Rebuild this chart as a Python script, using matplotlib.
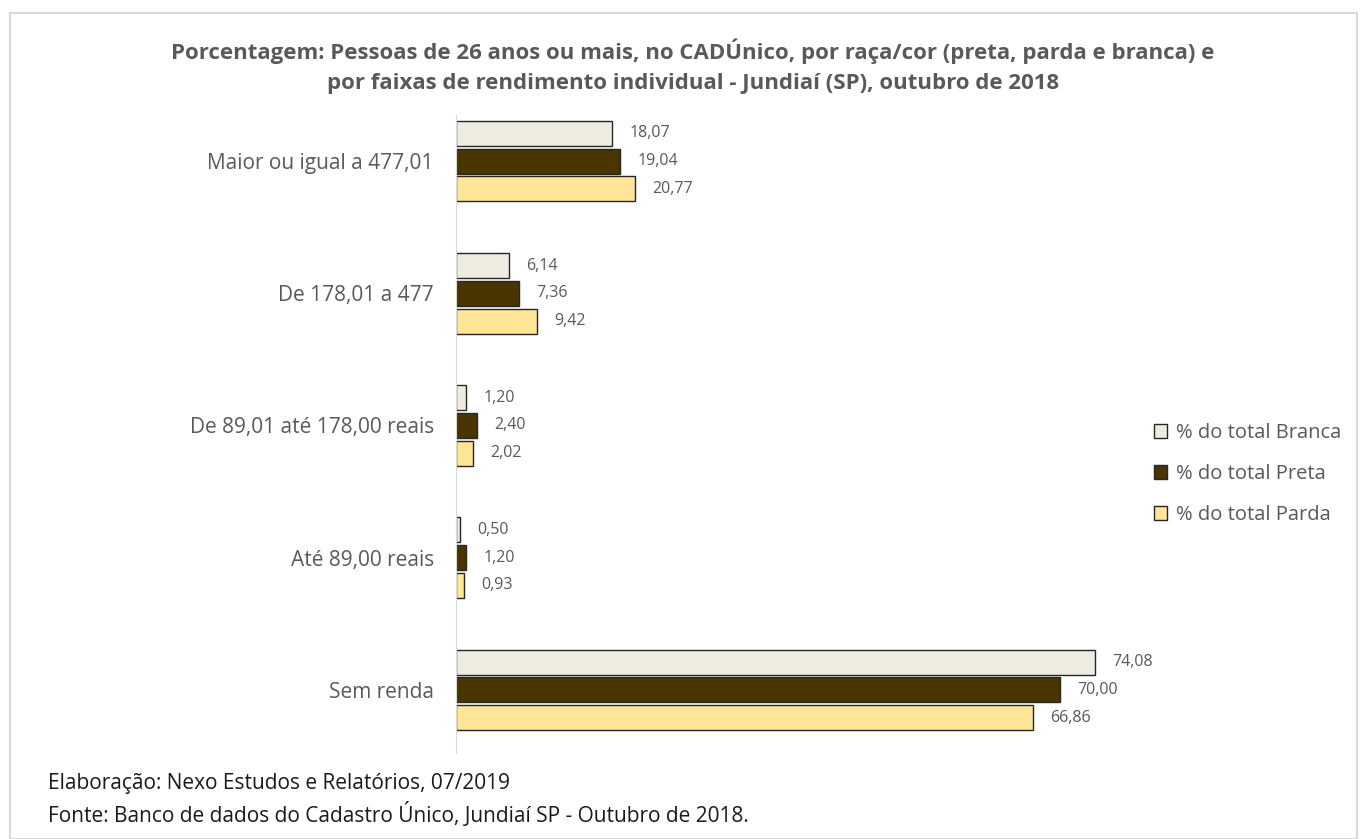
import numpy as np
import matplotlib.pyplot as plt
from matplotlib.patches import Rectangle, Patch

categories = ["Sem renda", "Até 89,00 reais", "De 89,01 até 178,00 reais",
              "De 178,01 a 477", "Maior ou igual a 477,01"]
branca = [74.08, 0.50, 1.20, 6.14, 18.07]
preta = [70.00, 1.20, 2.40, 7.36, 19.04]
parda = [66.86, 0.93, 2.02, 9.42, 20.77]
series_names = ["% do total Branca", "% do total Preta", "% do total Parda"]

colors = ["#EEEBE0", "#4A3500", "#FFE597"]
grey = "#595959"
plt.rcParams["font.family"] = ["Open Sans", "DejaVu Sans"]

fig = plt.figure(figsize=(13.62, 8.39), dpi=100)
W, H = 1362, 839
ax = fig.add_axes([456 / W, 1 - 756 / H, (1146 - 456) / W, (756 - 95) / H])

y = np.arange(len(categories))
h = 0.19
step = 0.21
for vals, off, c in zip([branca, preta, parda], [step, 0, -step], colors):
    bars = ax.barh(y + off, vals, height=h, color=c, edgecolor="#262626", linewidth=1.0)
    for b, v in zip(bars, vals):
        ax.text(v + 2.0, b.get_y() + b.get_height() / 2, f"{v:.2f}".replace(".", ","),
                va="center", ha="left", fontsize=11.5, color=grey)

ax.set_xlim(0, 80)
ax.set_ylim(-0.5, 4.5)
ax.set_yticks(y)
ax.set_yticklabels(categories, fontsize=15, color=grey)
ax.tick_params(axis="y", length=0, pad=16)
ax.set_xticks([])
for s in ["top", "right", "bottom"]:
    ax.spines[s].set_visible(False)
ax.spines["left"].set_color("#D9D9D9")
ax.spines["left"].set_bounds(-0.48, 4.35)

handles = [Patch(facecolor=c, edgecolor="#262626", linewidth=1.0, label=n)
           for c, n in zip(colors, series_names)]
leg = fig.legend(handles=handles, loc="center left", bbox_to_anchor=(1136 / W, 1 - 474 / H),
                 frameon=False, fontsize=14.5, labelcolor=grey, handlelength=0.65,
                 handleheight=0.65, handletextpad=0.45, labelspacing=1.05)

fig.text(693 / W, 1 - 51 / H, "Porcentagem: Pessoas de 26 anos ou mais, no CADÚnico, por raça/cor (preta, parda e branca) e",
         ha="center", va="center", fontsize=16, fontweight="bold", color=grey)
fig.text(693 / W, 1 - 83 / H, "por faixas de rendimento individual - Jundiaí (SP), outubro de 2018",
         ha="center", va="center", fontsize=16, fontweight="bold", color=grey)

fig.text(48 / W, 1 - 783 / H, "Elaboração: Nexo Estudos e Relatórios, 07/2019",
         ha="left", va="center", fontsize=15, color="#1A1A1A")
fig.text(48 / W, 1 - 815 / H, "Fonte: Banco de dados do Cadastro Único, Jundiaí SP - Outubro de 2018.",
         ha="left", va="center", fontsize=15, color="#1A1A1A")

fig.patches.append(Rectangle((10 / W, 0), (1357 - 10) / W, 1 - 13 / H, transform=fig.transFigure,
                             fill=False, edgecolor="#D9D9D9", linewidth=1.5))

fig.savefig("out.png", dpi=100)
